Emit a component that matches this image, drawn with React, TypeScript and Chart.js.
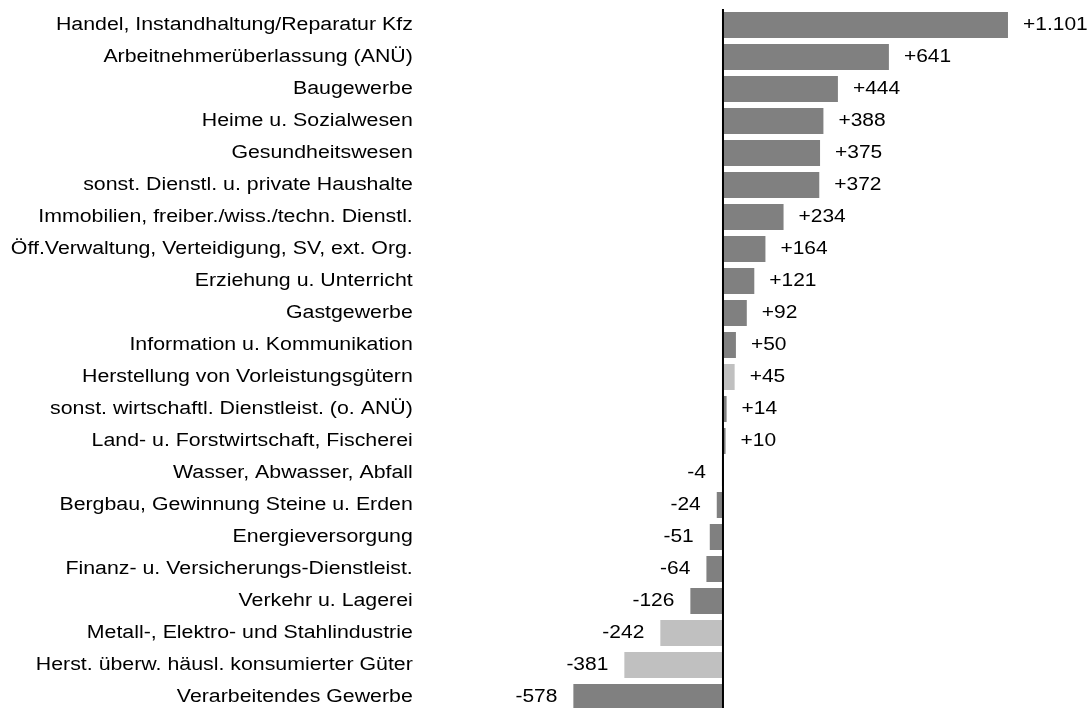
import React, { useEffect, useRef } from "react";
import { Chart, registerables } from "chart.js";

Chart.register(...registerables);

const categories = [
  "Handel, Instandhaltung/Reparatur Kfz",
  "Arbeitnehmerüberlassung (ANÜ)",
  "Baugewerbe",
  "Heime u. Sozialwesen",
  "Gesundheitswesen",
  "sonst. Dienstl. u. private Haushalte",
  "Immobilien, freiber./wiss./techn. Dienstl.",
  "Öff.Verwaltung, Verteidigung, SV, ext. Org.",
  "Erziehung u. Unterricht",
  "Gastgewerbe",
  "Information u. Kommunikation",
  "Herstellung von Vorleistungsgütern",
  "sonst. wirtschaftl. Dienstleist. (o. ANÜ)",
  "Land- u. Forstwirtschaft, Fischerei",
  "Wasser, Abwasser, Abfall",
  "Bergbau, Gewinnung Steine u. Erden",
  "Energieversorgung",
  "Finanz- u. Versicherungs-Dienstleist.",
  "Verkehr u. Lagerei",
  "Metall-, Elektro- und Stahlindustrie",
  "Herst. überw. häusl. konsumierter Güter",
  "Verarbeitendes Gewerbe",
];

const values = [1101, 641, 444, 388, 375, 372, 234, 164, 121, 92, 50, 45, 14, 10, -4, -24, -51, -64, -126, -242, -381, -578];

// true = sub-sector of manufacturing (light grey)
const highlighted = [false, false, false, false, false, false, false, false, false, false, false, true, false, false, false, false, false, false, false, true, true, false];

const DARK = "#808080";
const LIGHT = "#c0c0c0";
const FONT = "'Liberation Sans', Arial, sans-serif";
const LABEL_STRETCH = 1.185;
const VALUE_STRETCH = 1.165;

function formatValue(v: number): string {
  const abs = Math.abs(v);
  const s = abs.toString().replace(/\B(?=(\d{3})+(?!\d))/g, ".");
  return (v >= 0 ? "+" : "-") + s;
}

function drawText(ctx: CanvasRenderingContext2D, txt: string, x: number, y: number, align: CanvasTextAlign, stretch: number) {
  ctx.save();
  ctx.translate(x, y);
  ctx.scale(stretch, 1);
  ctx.textAlign = align;
  ctx.fillText(txt, 0, 0);
  ctx.restore();
}

const overlayPlugin = {
  id: "overlay",
  afterDatasetsDraw(chart: any) {
    const ctx = chart.ctx;
    const x = chart.scales.x;
    const y = chart.scales.y;
    const area = chart.chartArea;
    const zx = x.getPixelForValue(0);
    ctx.save();
    ctx.strokeStyle = "#000";
    ctx.lineWidth = 2;
    ctx.beginPath();
    ctx.moveTo(zx, area.top);
    ctx.lineTo(zx, area.bottom);
    ctx.stroke();

    ctx.font = `18px ${FONT}`;
    ctx.fillStyle = "#000";
    ctx.textBaseline = "middle";

    categories.forEach((c, i) => {
      drawText(ctx, c, area.left - 12.5, y.getPixelForTick(i), "right", LABEL_STRETCH);
    });

    const meta = chart.getDatasetMeta(0);
    meta.data.forEach((bar: any, i: number) => {
      const v = values[i];
      const txt = formatValue(v);
      if (v >= 0) {
        drawText(ctx, txt, bar.x + 15, bar.y, "left", VALUE_STRETCH);
      } else {
        drawText(ctx, txt, bar.x - 16, bar.y, "right", VALUE_STRETCH);
      }
    });
    ctx.restore();
  },
};

export default function App() {
  const ref = useRef<HTMLCanvasElement | null>(null);
  useEffect(() => {
    if (!ref.current) return;
    const chart = new Chart(ref.current, {
      type: "bar",
      data: {
        labels: categories,
        datasets: [
          {
            data: values,
            backgroundColor: highlighted.map((h) => (h ? LIGHT : DARK)),
            borderWidth: 0,
            categoryPercentage: 1,
            barPercentage: 0.82,
          },
        ],
      },
      options: {
        indexAxis: "y",
        animation: false,
        responsive: true,
        maintainAspectRatio: false,
        layout: { padding: { top: 9, bottom: 0, left: 0, right: 0 } },
        plugins: {
          legend: { display: false },
          tooltip: { enabled: false },
        },
        scales: {
          x: {
            display: false,
            min: -1150,
            max: 1414,
          },
          y: {
            afterFit(scale: any) {
              scale.width = 425.3;
            },
            grid: { display: false, drawTicks: false },
            border: { display: false },
            ticks: { display: false },
          },
        },
      },
      plugins: [overlayPlugin],
    });
    return () => chart.destroy();
  }, []);

  return (
    <div style={{ position: "fixed", top: 0, left: 0, width: 1089, height: 708, overflow: "hidden", background: "#fff" }}>
      <div style={{ position: "relative", width: 1089, height: 713 }}>
        <canvas ref={ref} />
      </div>
    </div>
  );
}
